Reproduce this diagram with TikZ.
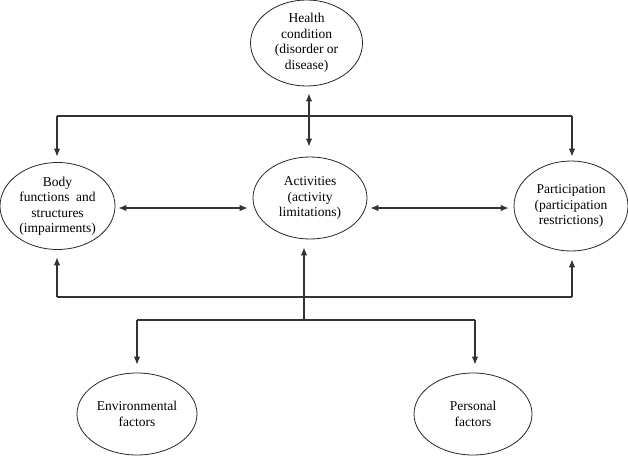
\documentclass[tikz,border=0pt]{standalone}
\usepackage{fontspec}
\setmainfont{Liberation Serif}
\newfontfamily\tnrfont{Liberation Serif}
\usetikzlibrary{shapes.geometric,arrows.meta}
\begin{document}
\begin{tikzpicture}[x=1pt,y=-1pt,
  oval/.style={ellipse,draw=black!85,line width=0.8pt,inner sep=0pt,align=center,
    font=\tnrfont\fontsize{13.5}{15.5}\selectfont},
  conn/.style={draw=black!80,line width=1.1pt},
  tip/.style={-{Latex[length=8pt,width=6.5pt]}},
  tips/.style={{Latex[length=8pt,width=6.5pt]}-{Latex[length=8pt,width=6.5pt]}}]
\useasboundingbox (0,0) rectangle (628,455);
\node[oval,minimum width=112pt,minimum height=86pt] (health) at (306.5,43) {Health\\condition\\(disorder or\\disease)};
\node[oval,minimum width=114pt,minimum height=82pt] (act) at (310,198) {Activities\\(activity\\limitations)};
\node[oval,minimum width=115pt,minimum height=87pt] (body) at (57.5,206) {Body\\functions\ \ and\\structures\\(impairments)};
\node[oval,minimum width=114pt,minimum height=90pt] (part) at (571,206) {Participation\\(participation\\restrictions)};
\node[oval,minimum width=120pt,minimum height=82pt] (env) at (137,414) {Environmental\\factors};
\node[oval,minimum width=118pt,minimum height=82pt] (pers) at (473,414) {Personal\\factors};
\coordinate (hx) at (309,0);
\coordinate (tl) at (57,116);
\coordinate (tr) at (572,116);
\coordinate (bl) at (57,297);
\coordinate (br) at (572,297);
\coordinate (mid) at (0,208);
\coordinate (bb) at (304,320);
\coordinate (be) at (137,320);
\coordinate (bp) at (475,320);
% health <-> activities
\draw[conn,tips,shorten <=7pt,shorten >=10pt] (health.south -| hx) -- (act.north -| hx);
% top line
\draw[conn] (tl) -- (tr);
\draw[conn,tip,shorten >=5.5pt] (tl) -- (tl |- body.north);
\draw[conn,tip,shorten >=4pt] (tr) -- (tr |- part.north);
% horizontal arrows
\draw[conn,tips,shorten <=3pt,shorten >=5pt] (body.east |- mid) -- (act.west |- mid);
\draw[conn,tips,shorten <=3pt,shorten >=5pt] (act.east |- mid) -- (part.west |- mid);
% bottom line
\draw[conn] (bl) -- (br);
\draw[conn,tip,shorten >=7.5pt] (bl) -- (bl |- body.south);
\draw[conn,tip,shorten >=8pt] (br) -- (br |- part.south);
% branch
\draw[conn] (be) -- (bp);
\draw[conn,tip,shorten >=8pt] (bb) -- (bb |- act.south);
\draw[conn,tip,shorten >=8pt] (be) -- (be |- env.north);
\draw[conn,tip,shorten >=8pt] (bp) -- (bp |- pers.north);
\end{tikzpicture}
\end{document}
